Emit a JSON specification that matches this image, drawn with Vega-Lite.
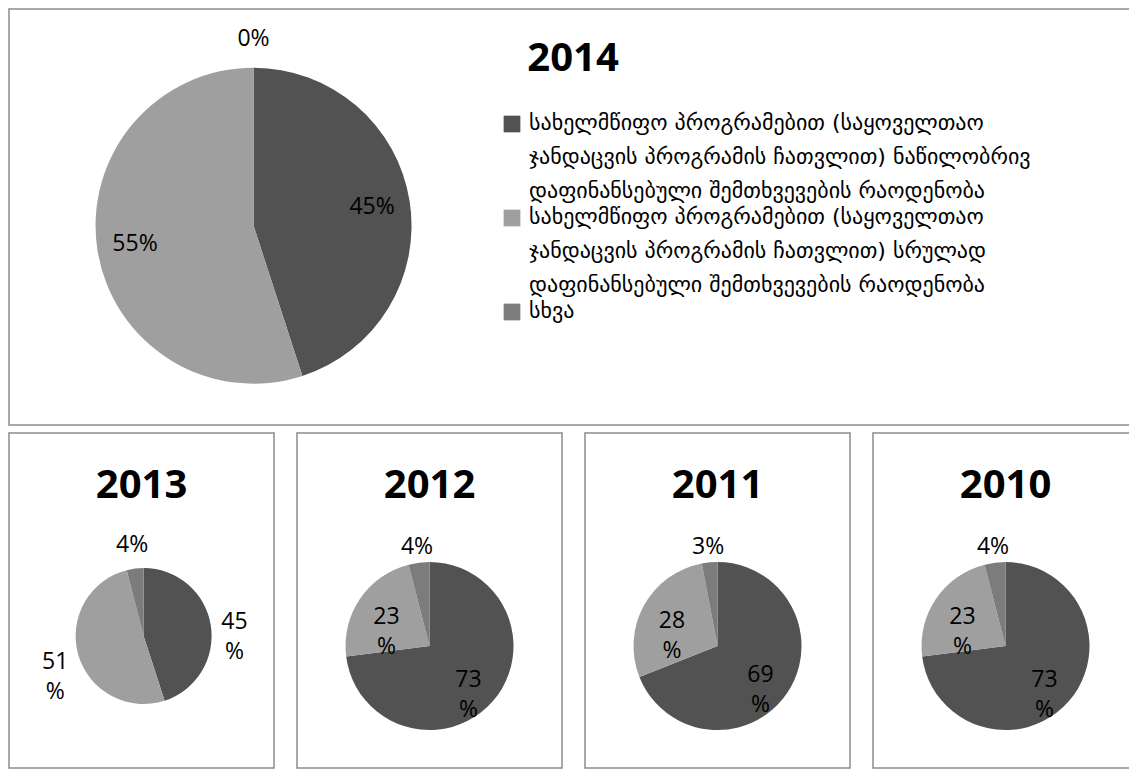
{
  "$schema": "https://vega.github.io/schema/vega-lite/v6.json",
  "background": "white",
  "padding": {"left": 8, "top": 8, "right": 0, "bottom": 0},
  "config": {
    "view": {"stroke": "#8c8c8c", "strokeWidth": 1.5},
    "title": {"font": "Open Sans", "fontSize": 40, "fontWeight": "bold", "color": "#000000", "anchor": "middle", "frame": "group"},
    "text": {"font": "Open Sans", "fontSize": 23, "color": "#000000"},
    "arc": {"strokeWidth": 0},
    "range": {"category": ["#525252", "#9f9f9f", "#7c7c7c"]},
    "style": {"guide-label": {"lineHeight": 34, "dy": -11}}
  },
  "datasets": {
    "shares": [
      {"year": 2014, "category": "სახელმწიფო პროგრამებით (საყოველთაო ჯანდაცვის პროგრამის ჩათვლით) ნაწილობრივ დაფინანსებული შემთხვევების რაოდენობა", "value": 45, "label": "45%"},
      {"year": 2014, "category": "სახელმწიფო პროგრამებით (საყოველთაო ჯანდაცვის პროგრამის ჩათვლით) სრულად დაფინანსებული შემთხვევების რაოდენობა", "value": 55, "label": "55%"},
      {"year": 2014, "category": "სხვა", "value": 0, "label": "0%"},
      {"year": 2013, "category": "სახელმწიფო პროგრამებით (საყოველთაო ჯანდაცვის პროგრამის ჩათვლით) ნაწილობრივ დაფინანსებული შემთხვევების რაოდენობა", "value": 45, "label": "45\n%"},
      {"year": 2013, "category": "სახელმწიფო პროგრამებით (საყოველთაო ჯანდაცვის პროგრამის ჩათვლით) სრულად დაფინანსებული შემთხვევების რაოდენობა", "value": 51, "label": "51\n%"},
      {"year": 2013, "category": "სხვა", "value": 4, "label": "4%"},
      {"year": 2012, "category": "სახელმწიფო პროგრამებით (საყოველთაო ჯანდაცვის პროგრამის ჩათვლით) ნაწილობრივ დაფინანსებული შემთხვევების რაოდენობა", "value": 73, "label": "73\n%"},
      {"year": 2012, "category": "სახელმწიფო პროგრამებით (საყოველთაო ჯანდაცვის პროგრამის ჩათვლით) სრულად დაფინანსებული შემთხვევების რაოდენობა", "value": 23, "label": "23\n%"},
      {"year": 2012, "category": "სხვა", "value": 4, "label": "4%"},
      {"year": 2011, "category": "სახელმწიფო პროგრამებით (საყოველთაო ჯანდაცვის პროგრამის ჩათვლით) ნაწილობრივ დაფინანსებული შემთხვევების რაოდენობა", "value": 69, "label": "69\n%"},
      {"year": 2011, "category": "სახელმწიფო პროგრამებით (საყოველთაო ჯანდაცვის პროგრამის ჩათვლით) სრულად დაფინანსებული შემთხვევების რაოდენობა", "value": 28, "label": "28\n%"},
      {"year": 2011, "category": "სხვა", "value": 3, "label": "3%"},
      {"year": 2010, "category": "სახელმწიფო პროგრამებით (საყოველთაო ჯანდაცვის პროგრამის ჩათვლით) ნაწილობრივ დაფინანსებული შემთხვევების რაოდენობა", "value": 73, "label": "73\n%"},
      {"year": 2010, "category": "სახელმწიფო პროგრამებით (საყოველთაო ჯანდაცვის პროგრამის ჩათვლით) სრულად დაფინანსებული შემთხვევების რაოდენობა", "value": 23, "label": "23\n%"},
      {"year": 2010, "category": "სხვა", "value": 4, "label": "4%"}
    ]
  },
  "resolve": {"scale": {"color": "independent"}, "legend": {"color": "independent"}},
  "spacing": 6,
  "vconcat": [
    {
      "width": 1128,
      "height": 416,
      "data": {"name": "shares"},
      "transform": [{"filter": "datum.year == 2014"}],
      "title": {"text": "2014", "offset": -70},
      "encoding": {
        "x": {"field": "year", "type": "nominal", "scale": {"type": "point", "align": 0.2168}, "axis": null},
        "y": {"field": "year", "type": "nominal", "scale": {"type": "point", "align": 0.5209}, "axis": null},
        "theta": {"field": "value", "type": "quantitative", "stack": true},
        "order": {"field": "category", "type": "nominal"}
      },
      "layer": [
        {
          "mark": {"type": "arc", "outerRadius": 158},
          "encoding": {
            "color": {
              "field": "category", "type": "nominal",
              "scale": {
                "domain": ["სახელმწიფო პროგრამებით (საყოველთაო ჯანდაცვის პროგრამის ჩათვლით) ნაწილობრივ დაფინანსებული შემთხვევების რაოდენობა", "სახელმწიფო პროგრამებით (საყოველთაო ჯანდაცვის პროგრამის ჩათვლით) სრულად დაფინანსებული შემთხვევების რაოდენობა", "სხვა"]
              },
              "legend": {
                "orient": "none", "legendX": 492, "legendY": 104, "title": null, "padding": 0,
                "symbolType": "square", "symbolSize": 280, "symbolStrokeWidth": 0, "symbolOpacity": 1,
                "labelFont": "DejaVu Sans", "labelFontSize": 22, "labelColor": "#000000", "labelLimit": 800,
                "labelOffset": 6, "labelBaseline": "top", "rowPadding": 4,
                "labelExpr": "indexof(datum.label, 'ჯანდაცვის') < 0 ? datum.label : [substring(datum.label, 0, indexof(datum.label, ' ჯანდაცვის')), substring(datum.label, indexof(datum.label, 'ჯანდაცვის'), indexof(datum.label, ' დაფინანსებული')), substring(datum.label, indexof(datum.label, 'დაფინანსებული'))]"
              }
            }
          }
        },
        {
          "mark": {"type": "text", "radius": 120},
          "encoding": {
            "detail": {"field": "category", "type": "nominal"},
            "text": {"field": "label", "type": "nominal"},
            "opacity": {"condition": {"test": "datum.value >= 10", "value": 1}, "value": 0}
          }
        },
        {
          "mark": {"type": "text", "radius": 187},
          "encoding": {
            "detail": {"field": "category", "type": "nominal"},
            "text": {"field": "label", "type": "nominal"},
            "opacity": {"condition": {"test": "datum.value < 10", "value": 1}, "value": 0}
          }
        }
      ]
    },
    {
      "spacing": 21,
      "resolve": {"scale": {"color": "independent"}, "legend": {"color": "independent"}},
      "hconcat": [
        {
          "width": 265, "height": 335,
          "data": {"name": "shares"},
          "transform": [{"filter": "datum.year == 2013"}],
          "title": {"text": "2013", "offset": -73},
          "encoding": {
            "x": {"field": "year", "type": "nominal", "scale": {"type": "point", "align": 0.508}, "axis": null},
            "y": {"field": "year", "type": "nominal", "scale": {"type": "point", "align": 0.606}, "axis": null},
            "theta": {"field": "value", "type": "quantitative", "stack": true},
            "order": {"field": "category", "type": "nominal"}
          },
          "layer": [
            {
              "mark": {"type": "arc", "outerRadius": 68},
              "encoding": {"color": {"field": "category", "type": "nominal", "scale": {"domain": ["სახელმწიფო პროგრამებით (საყოველთაო ჯანდაცვის პროგრამის ჩათვლით) ნაწილობრივ დაფინანსებული შემთხვევების რაოდენობა", "სახელმწიფო პროგრამებით (საყოველთაო ჯანდაცვის პროგრამის ჩათვლით) სრულად დაფინანსებული შემთხვევების რაოდენობა", "სხვა"]}, "legend": null}}
            },
            {
              "mark": {"type": "text", "radius": 92, "lineBreak": "\n", "lineHeight": 30},
              "encoding": {"detail": {"field": "category", "type": "nominal"}, "text": {"field": "label", "type": "nominal"}}
            }
          ]
        },
        {
          "width": 265, "height": 335,
          "data": {"name": "shares"},
          "transform": [{"filter": "datum.year == 2012"}],
          "title": {"text": "2012", "offset": -73},
          "encoding": {
            "x": {"field": "year", "type": "nominal", "scale": {"type": "point", "align": 0.5}, "axis": null},
            "y": {"field": "year", "type": "nominal", "scale": {"type": "point", "align": 0.636}, "axis": null},
            "theta": {"field": "value", "type": "quantitative", "stack": true},
            "order": {"field": "category", "type": "nominal"}
          },
          "layer": [
            {
              "mark": {"type": "arc", "outerRadius": 84},
              "encoding": {"color": {"field": "category", "type": "nominal", "scale": {"domain": ["სახელმწიფო პროგრამებით (საყოველთაო ჯანდაცვის პროგრამის ჩათვლით) ნაწილობრივ დაფინანსებული შემთხვევების რაოდენობა", "სახელმწიფო პროგრამებით (საყოველთაო ჯანდაცვის პროგრამის ჩათვლით) სრულად დაფინანსებული შემთხვევების რაოდენობა", "სხვა"]}, "legend": null}}
            },
            {
              "mark": {"type": "text", "radius": 52, "lineBreak": "\n", "lineHeight": 30},
              "encoding": {"detail": {"field": "category", "type": "nominal"}, "text": {"field": "label", "type": "nominal"}, "opacity": {"condition": {"test": "datum.value >= 10", "value": 1}, "value": 0}}
            },
            {
              "mark": {"type": "text", "radius": 100, "lineBreak": "\n", "lineHeight": 30},
              "encoding": {"detail": {"field": "category", "type": "nominal"}, "text": {"field": "label", "type": "nominal"}, "opacity": {"condition": {"test": "datum.value < 10", "value": 1}, "value": 0}}
            }
          ]
        },
        {
          "width": 265, "height": 335,
          "data": {"name": "shares"},
          "transform": [{"filter": "datum.year == 2011"}],
          "title": {"text": "2011", "offset": -73},
          "encoding": {
            "x": {"field": "year", "type": "nominal", "scale": {"type": "point", "align": 0.5}, "axis": null},
            "y": {"field": "year", "type": "nominal", "scale": {"type": "point", "align": 0.636}, "axis": null},
            "theta": {"field": "value", "type": "quantitative", "stack": true},
            "order": {"field": "category", "type": "nominal"}
          },
          "layer": [
            {
              "mark": {"type": "arc", "outerRadius": 84},
              "encoding": {"color": {"field": "category", "type": "nominal", "scale": {"domain": ["სახელმწიფო პროგრამებით (საყოველთაო ჯანდაცვის პროგრამის ჩათვლით) ნაწილობრივ დაფინანსებული შემთხვევების რაოდენობა", "სახელმწიფო პროგრამებით (საყოველთაო ჯანდაცვის პროგრამის ჩათვლით) სრულად დაფინანსებული შემთხვევების რაოდენობა", "სხვა"]}, "legend": null}}
            },
            {
              "mark": {"type": "text", "radius": 52, "lineBreak": "\n", "lineHeight": 30},
              "encoding": {"detail": {"field": "category", "type": "nominal"}, "text": {"field": "label", "type": "nominal"}, "opacity": {"condition": {"test": "datum.value >= 10", "value": 1}, "value": 0}}
            },
            {
              "mark": {"type": "text", "radius": 100, "lineBreak": "\n", "lineHeight": 30},
              "encoding": {"detail": {"field": "category", "type": "nominal"}, "text": {"field": "label", "type": "nominal"}, "opacity": {"condition": {"test": "datum.value < 10", "value": 1}, "value": 0}}
            }
          ]
        },
        {
          "width": 265, "height": 335,
          "data": {"name": "shares"},
          "transform": [{"filter": "datum.year == 2010"}],
          "title": {"text": "2010", "offset": -73},
          "encoding": {
            "x": {"field": "year", "type": "nominal", "scale": {"type": "point", "align": 0.5}, "axis": null},
            "y": {"field": "year", "type": "nominal", "scale": {"type": "point", "align": 0.636}, "axis": null},
            "theta": {"field": "value", "type": "quantitative", "stack": true},
            "order": {"field": "category", "type": "nominal"}
          },
          "layer": [
            {
              "mark": {"type": "arc", "outerRadius": 84},
              "encoding": {"color": {"field": "category", "type": "nominal", "scale": {"domain": ["სახელმწიფო პროგრამებით (საყოველთაო ჯანდაცვის პროგრამის ჩათვლით) ნაწილობრივ დაფინანსებული შემთხვევების რაოდენობა", "სახელმწიფო პროგრამებით (საყოველთაო ჯანდაცვის პროგრამის ჩათვლით) სრულად დაფინანსებული შემთხვევების რაოდენობა", "სხვა"]}, "legend": null}}
            },
            {
              "mark": {"type": "text", "radius": 52, "lineBreak": "\n", "lineHeight": 30},
              "encoding": {"detail": {"field": "category", "type": "nominal"}, "text": {"field": "label", "type": "nominal"}, "opacity": {"condition": {"test": "datum.value >= 10", "value": 1}, "value": 0}}
            },
            {
              "mark": {"type": "text", "radius": 100, "lineBreak": "\n", "lineHeight": 30},
              "encoding": {"detail": {"field": "category", "type": "nominal"}, "text": {"field": "label", "type": "nominal"}, "opacity": {"condition": {"test": "datum.value < 10", "value": 1}, "value": 0}}
            }
          ]
        }
      ]
    }
  ]
}
